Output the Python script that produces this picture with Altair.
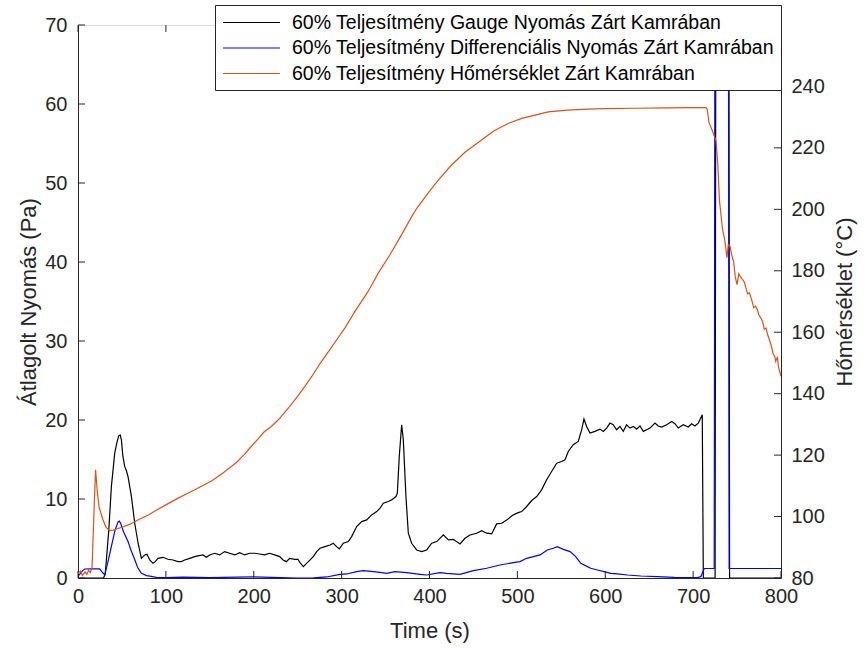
import altair as alt
import pandas as pd

FONT = "Liberation Sans"
AX = "#262626"

names = [
    "60% Teljesítmény Gauge Nyomás Zárt Kamrában",
    "60% Teljesítmény Differenciális Nyomás Zárt Kamrában",
    "60% Teljesítmény Hőmérséklet Zárt Kamrában",
]
colors = ["#000000", "#0000FF", "#D95319"]

# Gauge pressure (Pa) - left axis
gauge_t = [0, 10, 20, 29, 31, 35, 38, 41.8, 44, 46.3, 48, 49.4, 51, 53.2, 55, 57, 60.8, 64.6, 68.4,
           72.1, 75.9, 78.5, 81.6, 85.3, 88.0, 91.0, 96.7, 102.4, 108.1, 113.8, 117.6, 121.4, 127.1, 132.8,
           136.5, 142.2, 146.0, 149.8, 155.5, 161.2, 166.9, 172.6, 178.3, 184.0, 189.7, 195.3, 201.0, 206.7,
           212.4, 218.1, 223.8, 229.5, 233.3, 237.1, 240.9, 246.6, 250.3, 252.6, 256.4, 262.1, 267.8, 271.6,
           275.4, 281.1, 286.8, 290.5, 294.3, 297.4, 301.9, 307.6, 311.4, 317.1, 322.8, 328.5, 334.2, 339.9,
           343.7, 347.4, 353.1, 356.9, 361.9, 363.4, 365.6, 368.3, 370.2, 373.2, 375.9, 379.7, 385.4, 391.1,
           396.8, 402.5, 408.2, 415.8, 421.4, 427.1, 434.7, 440.4, 446.1, 453.7, 459.4, 465.1, 470.8, 476.4,
           482.1, 487.8, 495.4, 501.1, 504.9, 510.6, 516.3, 522.0, 527.6, 533.3, 539.0, 544.7, 550.4, 554.2,
           557.9, 563.6, 569.3, 573.2, 575.8, 578.8, 582.6, 588.3, 594.0, 597.8, 601.6, 605.4, 609.1, 612.9,
           616.7, 620.5, 624.3, 628.1, 631.9, 635.7, 639.5, 643.3, 647.1, 650.9, 656.6, 660.3, 664.2, 669.9,
           675.6, 679.3, 683.1, 688.8, 694.5, 698.3, 702.1, 705.9, 710.4, 711.6,
           725, 726, 740.5, 741.5, 800]
gauge_v = [0, 0, 0, 0, 0.5, 6, 11.6, 15.8, 17, 18.0, 18.1, 17.5, 15.5, 14.1, 13.6, 12.8, 10.3, 6.9, 4.4,
           2.49, 2.92, 3.0, 2.28, 1.86, 2.07, 2.49, 2.62, 2.37, 2.28, 2.07, 2.07, 2.28, 2.49, 2.71,
           2.79, 2.92, 2.62, 2.92, 3.13, 2.92, 3.34, 3.13, 2.92, 3.21, 2.92, 3.13, 3.13, 3.04,
           2.92, 3.13, 2.92, 2.71, 2.28, 2.07, 2.49, 2.37, 2.37, 1.94, 1.44, 2.07, 2.70, 3.34,
           3.76, 3.97, 4.18, 4.40, 3.97, 3.68, 4.40, 4.61, 5.24, 6.51, 7.14, 7.35, 7.99, 8.41,
           8.83, 9.47, 9.68, 9.89, 10.31, 10.74, 15.38, 19.40, 17.50, 10.31, 5.67, 4.40, 3.55, 3.34,
           3.55, 4.40, 4.61, 5.45, 4.82, 4.90, 4.31, 5.03, 5.45, 5.67, 6.00, 5.67, 5.58, 6.85,
           6.93, 7.35, 7.99, 8.28, 8.41, 9.05, 9.81, 10.31, 11.16, 12.43, 13.48, 14.54, 14.75, 14.96,
           16.02, 16.87, 17.28, 18.77, 20.12, 19.19, 18.35, 18.56, 18.85, 18.56, 18.98, 19.61, 19.40, 18.77,
           19.19, 18.56, 19.40, 18.98, 19.19, 18.85, 19.24, 18.56, 18.77, 18.98, 19.61, 19.24, 19.11, 19.40,
           19.82, 19.53, 18.98, 19.40, 19.11, 19.53, 19.24, 19.61, 20.67, 0,
           0, 90, 90, 0, 0]

# Differential pressure (Pa) - left axis
diff_t = [0, 5, 7.6, 15, 24.7, 27, 30.4, 34, 38, 42, 45.6, 47, 48.6, 52, 57, 60, 64.6, 68, 72.2, 78, 83.5,
          90, 100, 120, 150, 180, 200, 229.9, 248.8, 267.8, 282.9, 298.1, 305.7, 317.1, 324.7, 336.1,
          343.7, 351.2, 360.7, 374.0, 389.2, 396.8, 411.9, 419.5, 434.7, 449.9, 465.1, 480.2, 495.4, 503.0,
          510.6, 525.8, 534.1, 540.9, 545.5, 552.3, 559.9, 566.4, 572.1, 579.7, 583.5, 591.1, 598.7, 606.3,
          613.9, 625.3, 640.5, 659.4, 678.4, 697.4, 705.0, 708.8, 712.6, 724, 725, 740, 741, 800]
diff_v = [0.2, 0.9, 1.14, 1.15, 1.15, 0.8, 0.4, 2.0, 4.0, 6.0, 7.1, 7.2, 6.9, 5.8, 4.6, 3.6, 2.3, 1.3, 0.6, 0.3, 0.2,
          0.05, 0.05, 0.1, 0.05, 0.1, 0.15, 0.04, 0.0, 0.02, 0.13, 0.46, 0.51, 0.80, 0.93, 0.80,
          0.72, 0.59, 0.80, 0.68, 0.47, 0.38, 0.68, 0.59, 0.47, 0.93, 1.23, 1.65, 1.94, 2.07,
          2.49, 2.92, 3.55, 3.76, 3.97, 3.63, 3.34, 2.70, 1.86, 1.44, 1.23, 1.01, 0.80, 0.59,
          0.51, 0.38, 0.25, 0.17, 0.08, 0.04, 0.04, 0.17, 1.2, 1.2, 90, 90, 1.2, 1.2]

# Temperature (°C) - right axis
temp_t = [0, 3, 5, 8, 10, 12, 14, 16, 18, 20, 22, 24, 28.5, 32, 36, 40, 50, 60, 68, 80, 90, 100, 114, 125,
          133, 140, 152, 165, 180, 190, 197, 205, 212, 220, 228, 240, 250, 258, 266, 275, 285, 295, 304,
          315, 330, 342, 355, 368, 380, 386, 399, 410, 424, 440, 455, 473, 490, 505, 519, 535, 557, 580,
          600, 633, 670, 700, 714.5, 716, 718, 722, 726, 728, 730, 733.5, 736, 738.5, 740, 742, 744, 746,
          748, 750, 752, 753.6, 756, 758, 760, 762, 764, 766, 769, 771, 773, 775, 777, 779, 781, 783, 785,
          788.6, 791, 793, 794, 796, 797, 800]
temp_v = [81.5, 82.3, 80.8, 82.0, 81.2, 82.5, 81.8, 83.5, 100, 115.2, 108, 103, 98.9, 96.5, 95.4, 95.6, 96.5,
          97.6, 98.9, 100.5, 102.2, 103.8, 106, 107.6, 108.7, 109.8, 111.6, 114.2, 117.5, 120.4, 122.8, 125.3,
          127.6, 129.3, 131.5, 135.5, 139.2, 142.3, 145.6, 149.6, 153.7, 157.8, 161.5, 166.7, 173.2, 179.4,
          185.2, 191.6, 197.8, 200.5, 205.5, 209.5, 214.1, 218.5, 221.7, 225.5, 228.0, 229.6, 230.6, 231.7,
          232.3, 232.6, 232.8, 232.9, 233.0, 233.1, 233.1, 232.6, 228.3, 225.5, 222.3, 215, 202.7, 193.5,
          190, 184.3, 188.5, 188, 185, 183.1, 178, 175.5, 179, 178.2, 177.2, 176.5, 174.5, 172.5, 172.8,
          171.2, 168, 168.5, 167.4, 165.5, 164.7, 163.5, 161, 161.4, 159, 156, 153, 152, 150.5, 152, 148.9,
          145.6]

x_ticks = [0, 100, 200, 300, 400, 500, 600, 700, 800]
left_ticks = [0, 10, 20, 30, 40, 50, 60, 70]
right_ticks = [80, 100, 120, 140, 160, 180, 200, 220, 240]

W, H = 703, 553
TICK = 7

left_df = pd.concat([
    pd.DataFrame({"t": gauge_t, "v": gauge_v, "s": names[0], "i": range(len(gauge_t))}),
    pd.DataFrame({"t": diff_t, "v": diff_v, "s": names[1], "i": range(len(diff_t))}),
])
right_df = pd.DataFrame({"t": temp_t, "T": temp_v, "s": names[2], "i": range(len(temp_t))})

common_axis = dict(grid=False, ticks=False, tickSize=0, labelFontSize=20, titleFontSize=22,
                   titleFontWeight="normal", labelColor=AX, titleColor=AX, domainColor=AX,
                   labelFont=FONT, titleFont=FONT, labelFlush=False)

x_enc = alt.X("t:Q", scale=alt.Scale(domain=[0, 800], nice=False, zero=False),
              axis=alt.Axis(values=x_ticks, title="Time (s)", orient="bottom",
                            labelPadding=8, titlePadding=14, **common_axis))
yl_enc = alt.Y("v:Q", scale=alt.Scale(domain=[0, 70], nice=False, zero=False),
               axis=alt.Axis(values=left_ticks, title="Átlagolt Nyomás (Pa)", orient="left",
                             labelPadding=11, titlePadding=4, **common_axis))
yr_enc = alt.Y("T:Q", scale=alt.Scale(domain=[80, 260], nice=False, zero=False),
               axis=alt.Axis(values=right_ticks, title="Hőmérséklet (°C)", orient="right",
                             labelPadding=10, titlePadding=10, titleAngle=270, titleBaseline="top",
                             **common_axis))

stroke_enc = alt.Stroke("s:N", scale=alt.Scale(domain=names, range=colors),
                        legend=alt.Legend(title=None, orient="none", legendX=137, legendY=-20,
                                          direction="vertical", fillColor="white", strokeColor=AX,
                                          padding=7, rowPadding=5.5, labelFontSize=19.5, labelFont=FONT,
                                          labelColor="#000000", labelLimit=700, labelOffset=49,
                                          symbolType="M-1,0H5", symbolSize=361, symbolStrokeWidth=1.2))

left_lines = alt.Chart(left_df).mark_line(clip=True, strokeWidth=1.2).encode(
    x=x_enc, y=yl_enc, stroke=stroke_enc, order="i:Q")

xt_df = pd.DataFrame({"t": x_ticks})
bottom_ticks = alt.Chart(xt_df).mark_rule(color=AX, strokeWidth=1).encode(
    x=x_enc, y=alt.value(H), y2=alt.value(H - TICK))
top_ticks = alt.Chart(xt_df).mark_rule(color=AX, strokeWidth=1).encode(
    x=x_enc, y=alt.value(0), y2=alt.value(TICK))
lt_df = pd.DataFrame({"v": left_ticks})
left_tk = alt.Chart(lt_df).mark_rule(color=AX, strokeWidth=1).encode(
    y=yl_enc, x=alt.value(0), x2=alt.value(TICK))

right_line = alt.Chart(right_df).mark_line(clip=True, strokeWidth=1.2).encode(
    x=x_enc, y=yr_enc, stroke=stroke_enc, order="i:Q")
rt_df = pd.DataFrame({"T": right_ticks})
right_tk = alt.Chart(rt_df).mark_rule(color=AX, strokeWidth=1).encode(
    y=yr_enc, x=alt.value(W), x2=alt.value(W - TICK))

left = alt.layer(left_lines, bottom_ticks, top_ticks, left_tk)
right = alt.layer(right_line, right_tk)

chart = alt.layer(left, right).resolve_scale(y="independent").properties(
    width=W, height=H,
    autosize=alt.AutoSizeParams(type="none"),
    padding={"left": 78, "top": 25, "right": 84, "bottom": 74},
).configure_view(stroke=AX, strokeWidth=1).configure(font=FONT, background="white")

chart.save("out.html", embed_options={"renderer": "svg", "actions": False})
